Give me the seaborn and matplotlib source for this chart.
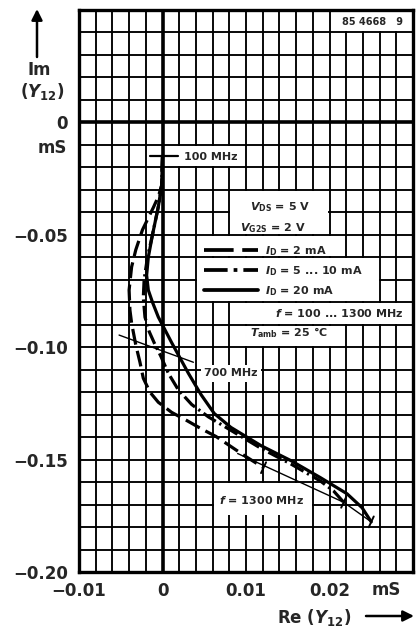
import matplotlib
matplotlib.use("Agg")
import matplotlib.pyplot as plt
import seaborn as sns
import pandas as pd
from matplotlib.patches import Rectangle
from matplotlib.ticker import MultipleLocator, FixedLocator

# ---------------- data (Re(Y12), Im(Y12) in mS), f = 100 ... 1300 MHz ----------------
re_2mA = [0.0, -0.0001, -0.0005, -0.0011, -0.0024, -0.0032, -0.0037, -0.0040, -0.0039, -0.0037,
          -0.0032, -0.0027, -0.0023, -0.0015, -0.0005, 0.0011, 0.0029, 0.0046, 0.0064, 0.0082,
          0.0100, 0.0121]
im_2mA = [-0.015, -0.028, -0.033, -0.0379, -0.0478, -0.0567, -0.0643, -0.0746, -0.0835, -0.0893,
          -0.099, -0.1067, -0.1138, -0.120, -0.1245, -0.129, -0.1326, -0.1362, -0.1397, -0.1442,
          -0.1487, -0.1536]

re_5_10mA = [0.0, -0.0001, -0.0005, -0.0012, -0.0018, -0.0022, -0.0023, -0.0021, -0.0016, -0.0010,
             -0.0002, 0.0007, 0.0019, 0.0035, 0.0055, 0.0082, 0.0118, 0.0154, 0.0189, 0.0205, 0.0217]
im_5_10mA = [-0.015, -0.028, -0.0375, -0.050, -0.060, -0.070, -0.078, -0.0866, -0.093, -0.098,
             -0.104, -0.1116, -0.119, -0.1255, -0.1310, -0.1370, -0.1450, -0.1520, -0.1595, -0.1640,
             -0.1690]

re_20mA = [0.0, -0.0001, -0.0005, -0.0012, -0.0017, -0.0019, -0.0017, -0.0012, -0.0005, 0.0011,
           0.0031, 0.0046, 0.0062, 0.0082, 0.0118, 0.0154, 0.0189, 0.0221, 0.0239, 0.0250]
im_20mA = [-0.015, -0.028, -0.0375, -0.050, -0.060, -0.068, -0.0746, -0.080, -0.0866, -0.098,
           -0.1116, -0.1210, -0.1295, -0.1357, -0.1438, -0.1505, -0.1580, -0.1652, -0.1714, -0.1777]

# 700 MHz and 1300 MHz frequency loci
re_700 = [-0.0052, 0.0037]
im_700 = [-0.0946, -0.1067]
re_1300 = [0.0090, 0.0217, 0.0250]
im_1300 = [-0.1473, -0.1690, -0.1777]

xtick_vals = [-0.01, 0.0, 0.01, 0.02]
xtick_labels = ["\u22120.01", "0", "0.01", "0.02"]
ytick_vals = [0.0, -0.05, -0.10, -0.15, -0.20]
ytick_labels = ["0", "\u22120.05", "\u22120.10", "\u22120.15", "\u22120.20"]

# ---------------- style ----------------
sns.set_style("white")
plt.rcParams['font.family'] = ['DejaVu Sans']
plt.rcParams['font.weight'] = 'bold'
plt.rcParams['mathtext.fontset'] = 'custom'
plt.rcParams['mathtext.rm'] = 'DejaVu Sans:bold'
plt.rcParams['mathtext.it'] = 'DejaVu Sans:italic:bold'
plt.rcParams['mathtext.bf'] = 'DejaVu Sans:bold'
plt.rcParams['mathtext.sf'] = 'DejaVu Sans:bold'

W, H = 418, 638
fig = plt.figure(figsize=(W / 100, H / 100), dpi=100)
ax = fig.add_axes([79 / W, 1 - 572 / H, (413 - 79) / W, (572 - 10) / H])
ax.set_xlim(-0.01, 0.03)
ax.set_ylim(-0.20, 0.05)

def fx(px):
    return px / W

def fy(py):
    return 1 - py / H

# grid
ax.set_axisbelow(True)
ax.xaxis.set_major_locator(FixedLocator(xtick_vals))
ax.yaxis.set_major_locator(FixedLocator(ytick_vals))
ax.xaxis.set_minor_locator(MultipleLocator(0.002))
ax.yaxis.set_minor_locator(MultipleLocator(0.01))
ax.grid(which='both', color='black', linewidth=1.35)
ax.set_xticklabels(xtick_labels, fontsize=12, fontweight='bold')
ax.set_yticklabels(ytick_labels, fontsize=12, fontweight='bold')
ax.tick_params(axis='x', which='major', direction='out', length=5, width=1.5, pad=2)
ax.tick_params(axis='y', which='major', direction='out', length=7, width=1.5, pad=1)
ax.tick_params(which='minor', length=0)
for s in ax.spines.values():
    s.set_linewidth(2.4)
    s.set_color('black')
ax.axvline(0, color='black', lw=2.6, zorder=0.7)
ax.axhline(0, color='black', lw=2.6, zorder=0.7)

# white cut-outs in the grid behind the texts
ix, iy = 0.00012, 0.00045
white_boxes = [
    (0.020, 0.040, 0.030, 0.050),
    (0.008, -0.050, 0.020, -0.030),
    (0.004, -0.060, 0.022, -0.050),
    (0.004, -0.080, 0.026, -0.060),
    (0.0085, -0.090, 0.030, -0.080),
    (0.0085, -0.100, 0.022, -0.090),
    (0.001, -0.020, 0.010, -0.010),
    (0.006, -0.175, 0.018, -0.160),
]
for x0, y0, x1, y1 in white_boxes:
    ax.add_patch(Rectangle((x0 + ix, y0 + iy), (x1 - x0) - 2 * ix, (y1 - y0) - 2 * iy,
                           facecolor='white', edgecolor='none', zorder=1))

# ---------------- curves ----------------
LW = 2.3
curves = [
    (re_2mA, im_2mA, [5.0, 2.0]),
    (re_5_10mA, im_5_10mA, [4.6, 1.3, 0.7, 1.3]),
    (re_20mA, im_20mA, None),
]
for rx, iy_, dash in curves:
    df = pd.DataFrame({"re": rx, "im": iy_})
    sns.lineplot(data=df, x="re", y="im", sort=False, estimator=None, color='black',
                 linewidth=LW, ax=ax, zorder=3)
    ln = ax.lines[-1]
    ln.set_solid_joinstyle('round')
    if dash is not None:
        ln.set_dashes(dash)

# frequency loci (thin lines)
sns.lineplot(x=re_700, y=im_700, sort=False, estimator=None, color='black', linewidth=1.0, ax=ax, zorder=3)
sns.lineplot(x=re_1300, y=im_1300, sort=False, estimator=None, color='black', linewidth=1.0, ax=ax, zorder=3)

# 100 MHz marker at start of curves
ax.plot([re_20mA[0] - 0.0015, re_20mA[0] + 0.0018], [im_20mA[0], im_20mA[0]], color='black', lw=1.6, zorder=3)
# 1300 MHz end ticks
for rx, iy_ in [(re_2mA, im_2mA), (re_5_10mA, im_5_10mA), (re_20mA, im_20mA)]:
    ex, ey = rx[-1], iy_[-1]
    ax.plot([ex + 0.0003, ex - 0.0003], [ey + 0.0024, ey - 0.0024], color='black', lw=1.4, zorder=3)

# ---------------- annotations ----------------
fs = 8
ax.text(0.0026, -0.0152, "100 MHz", fontsize=fs, fontweight='bold', va='center', ha='left', zorder=4)
ax.text(0.0050, -0.1116, "700 MHz", fontsize=fs, fontweight='bold', va='center', ha='left', zorder=4,
        bbox=dict(facecolor='white', edgecolor='none', pad=2.5))
ax.text(0.0118, -0.1679, "$f$ = 1300 MHz", fontsize=fs, fontweight='bold', va='center', ha='center', zorder=4)
ax.text(0.0252, 0.0448, "85 4668   9", fontsize=7, fontweight='bold', va='center', ha='center', zorder=4)

# legend block
ax.text(0.0105, -0.0376, "$V_\\mathrm{DS}$ = 5 V", fontsize=fs, va='center', ha='left', zorder=4)
ax.text(0.0093, -0.0470, "$V_\\mathrm{G2S}$ = 2 V", fontsize=fs, va='center', ha='left', zorder=4)
leg_rows = [(-0.0568, [7.9, 2.3], "$I_\\mathrm{D}$ = 2 mA"),
            (-0.0657, [6.3, 1.6, 1.0, 1.6], "$I_\\mathrm{D}$ = 5 ... 10 mA"),
            (-0.0746, None, "$I_\\mathrm{D}$ = 20 mA")]
for yy, dash, lab in leg_rows:
    ln, = ax.plot([0.0050, 0.0114], [yy, yy], color='black', lw=LW + 0.4, zorder=4)
    if dash is not None:
        ln.set_dashes(dash)
    ax.text(0.0123, yy - 0.0005, lab, fontsize=fs, va='center', ha='left', zorder=4)
ax.text(0.0135, -0.0848, "$f$ = 100 ... 1300 MHz", fontsize=fs, va='center', ha='left', zorder=4)
ax.text(0.0105, -0.0937, "$T_\\mathrm{amb}$ = 25 \u00b0C", fontsize=fs, va='center', ha='left', zorder=4)

# axis titles outside the axes
fig.text(fx(39), fy(70), "Im", fontsize=12, fontweight='bold', ha='center', va='center')
fig.text(fx(42), fy(92), "($Y_{12}$)", fontsize=12, ha='center', va='center')
fig.text(fx(52), fy(148), "mS", fontsize=12, fontweight='bold', ha='center', va='center')
fig.text(fx(386), fy(590), "mS", fontsize=12, fontweight='bold', ha='center', va='center')
fig.text(fx(277), fy(617), "Re ($Y_{12}$)", fontsize=12, ha='left', va='center')

ax.annotate("", xy=(fx(37), fy(9)), xytext=(fx(37), fy(57)), xycoords='figure fraction',
            textcoords='figure fraction',
            arrowprops=dict(arrowstyle='-|>', lw=1.8, color='black', mutation_scale=16, shrinkA=0, shrinkB=0))
ax.annotate("", xy=(fx(414), fy(616)), xytext=(fx(366), fy(616)), xycoords='figure fraction',
            textcoords='figure fraction',
            arrowprops=dict(arrowstyle='-|>', lw=1.8, color='black', mutation_scale=16, shrinkA=0, shrinkB=0))

ax.set_xlabel("")
ax.set_ylabel("")
fig.savefig("out.png", dpi=100)
